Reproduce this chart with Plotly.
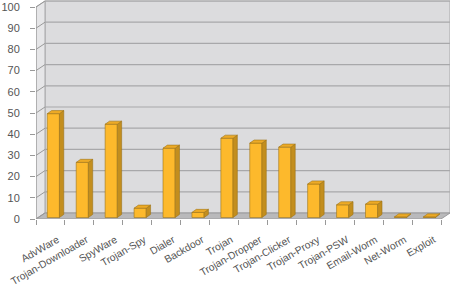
import plotly.graph_objects as go

categories = ["AdvWare", "Trojan-Downloader", "SpyWare", "Trojan-Spy", "Dialer", "Backdoor",
              "Trojan", "Trojan-Dropper", "Trojan-Clicker", "Trojan-Proxy", "Trojan-PSW",
              "Email-Worm", "Net-Worm", "Exploit"]
values = [49, 26, 44, 4.4, 32.7, 2.4, 37.4, 35.1, 33.2, 15.8, 6.0, 6.3, 0.3, 0.3]
y_ticks = [0, 10, 20, 30, 40, 50, 60, 70, 80, 90, 100]

# pseudo-3D styling parameters (axis units)
n = len(categories)
wall_dx, wall_dy = 0.311, 2.83      # depth of the floor / side wall
bar_w = 0.42                         # front-face width
bar_shift_x, bar_shift_y = 0.10, 0.7  # bars sit mid-depth
face_dx, face_dy = 0.15, 1.45        # bar side/top depth

FRONT = "#FDB92C"
SIDE = "#C38E1E"
TOP = "#EDAA26"
EDGE = "#9C741A"
GRID = "#A8A8AA"
ymax = y_ticks[-1]

shapes = []
x0, x1 = -0.5, n - 0.5
# back wall
shapes.append(dict(type="rect", x0=x0 + wall_dx, x1=x1 + wall_dx, y0=wall_dy, y1=ymax + wall_dy,
                   fillcolor="#DCDCDE", line=dict(color=GRID, width=1), layer="below"))
# left wall
shapes.append(dict(type="path",
                   path=f"M {x0},0 L {x0},{ymax} L {x0+wall_dx},{ymax+wall_dy} L {x0+wall_dx},{wall_dy} Z",
                   fillcolor="#E6E6E8", line=dict(color=GRID, width=1), layer="below"))
# floor
shapes.append(dict(type="path",
                   path=f"M {x0},0 L {x1},0 L {x1+wall_dx},{wall_dy} L {x0+wall_dx},{wall_dy} Z",
                   fillcolor="#B9B9BB", line=dict(color="#9A9A9C", width=1), layer="below"))
# grid lines on back and left wall
for t in y_ticks[1:]:
    shapes.append(dict(type="line", x0=x0 + wall_dx, x1=x1 + wall_dx, y0=t + wall_dy, y1=t + wall_dy,
                       line=dict(color=GRID, width=1.2), layer="below"))
for t in y_ticks:
    shapes.append(dict(type="line", x0=x0, x1=x0 + wall_dx, y0=t, y1=t + wall_dy,
                       line=dict(color="#999999", width=1), layer="below"))
# front axis line
shapes.append(dict(type="line", x0=x0, x1=x0, y0=0, y1=ymax,
                   line=dict(color="#999999", width=1), layer="below"))

idx = list(range(n))
fig = go.Figure()
fig.add_trace(go.Bar(x=idx, y=values, base=bar_shift_y, width=bar_w,
                     offset=-bar_w / 2 + bar_shift_x,
                     marker=dict(color=FRONT, line=dict(color=EDGE, width=0.6)),
                     hoverinfo="skip"))

side_x, side_y, top_x, top_y = [], [], [], []
for i, v in zip(idx, values):
    xl = i - bar_w / 2 + bar_shift_x
    xr = xl + bar_w
    b = bar_shift_y
    side_x += [xr, xr + face_dx, xr + face_dx, xr, xr, None]
    side_y += [b, b + face_dy, b + v + face_dy, b + v, b, None]
    top_x += [xl, xr, xr + face_dx, xl + face_dx, xl, None]
    top_y += [b + v, b + v, b + v + face_dy, b + v + face_dy, b + v, None]

fig.add_trace(go.Scatter(x=side_x, y=side_y, mode="lines", fill="toself", fillcolor=SIDE,
                         line=dict(color=EDGE, width=0.6), hoverinfo="skip"))
fig.add_trace(go.Scatter(x=top_x, y=top_y, mode="lines", fill="toself", fillcolor=TOP,
                         line=dict(color=EDGE, width=0.6), hoverinfo="skip"))

fig.update_layout(
    width=450, height=284,
    margin=dict(l=36, r=0, t=0, b=65, autoexpand=False),
    paper_bgcolor="white", plot_bgcolor="white",
    showlegend=False,
    shapes=shapes,
    font=dict(family="Liberation Sans, Arial, sans-serif", color="#555555", size=11),
    xaxis=dict(range=[x0, x1 + wall_dx], tickvals=idx, ticktext=categories, tickangle=-30,
               ticks="", showgrid=False, zeroline=False, showline=False, automargin=False,
               ticklabeloverflow="allow", ticklabelstandoff=12, ticklabelshift=7,
               tickfont=dict(size=10.3, color="#555555"),
               minor=dict(tickvals=[i - 0.5 for i in range(n + 1)], ticks="outside",
                          ticklen=5, tickcolor="#999999", showgrid=False)),
    yaxis=dict(range=[0, 103.3], tickvals=y_ticks, ticks="outside", ticklen=5,
               tickcolor="#999999", showgrid=False, zeroline=False, showline=False,
               automargin=False,
               ticklabelstandoff=8, tickfont=dict(size=11, color="#555555")),
)
fig.write_html("out.html")
